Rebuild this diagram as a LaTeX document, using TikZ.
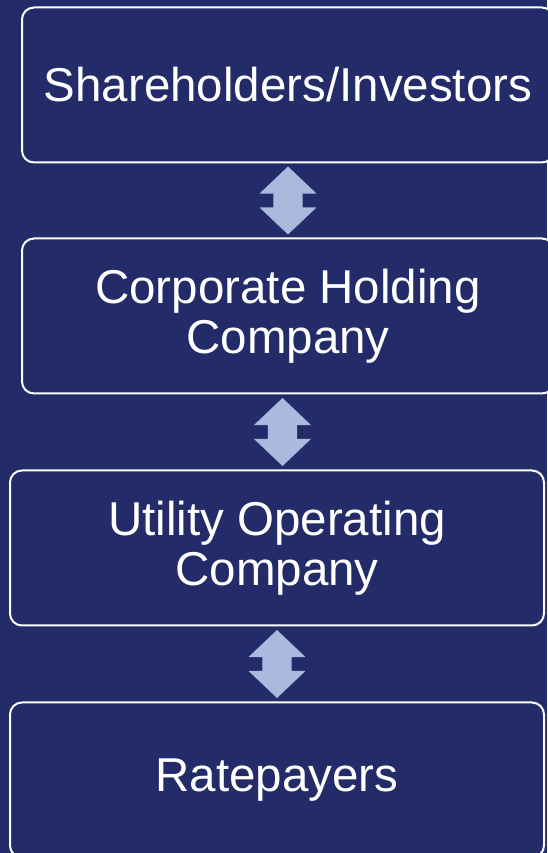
\documentclass[tikz,border=0pt]{standalone}
\usepackage{fontspec}
\setmainfont{Liberation Sans}
\usetikzlibrary{shapes.arrows,calc}
\definecolor{navy}{RGB}{35,43,105}
\definecolor{arrowblue}{RGB}{170,186,222}

\begin{document}
\begin{tikzpicture}[x=1pt,y=1pt,
  entity/.style={draw=white,line width=2pt,rounded corners=12pt,fill=navy,text=white,
    minimum height=155pt,align=center,inner sep=0pt,
    font=\fontsize{47.5}{50}\selectfont},
  updown/.style={double arrow,fill=arrowblue,rotate=90,inner xsep=0pt,inner ysep=14.5pt,
    minimum height=68pt,double arrow head extend=14pt,double arrow tip angle=93}]
% background
\fill[navy] (0,0) rectangle (547,853);
\useasboundingbox (0,0) rectangle (547,853);
% boxes
\node[entity,minimum width=532pt] (share) at (288,768) {Shareholders/Investors};
\node[entity,minimum width=532pt] (hold) at (288,537) {Corporate Holding\\Company};
\node[entity,minimum width=534pt] (util) at (277,305) {Utility Operating\\Company};
\node[entity,minimum width=534pt] (rate) at (277,73) {Ratepayers};
% arrows between boxes
\node[updown] (a1) at ($(share.south)!0.5!(hold.north)$) {};
\node[updown] (a2) at ($(hold.south)!0.5!(util.north)$) {};
\node[updown] (a3) at ($(util.south)!0.5!(rate.north)$) {};
\end{tikzpicture}
\end{document}
